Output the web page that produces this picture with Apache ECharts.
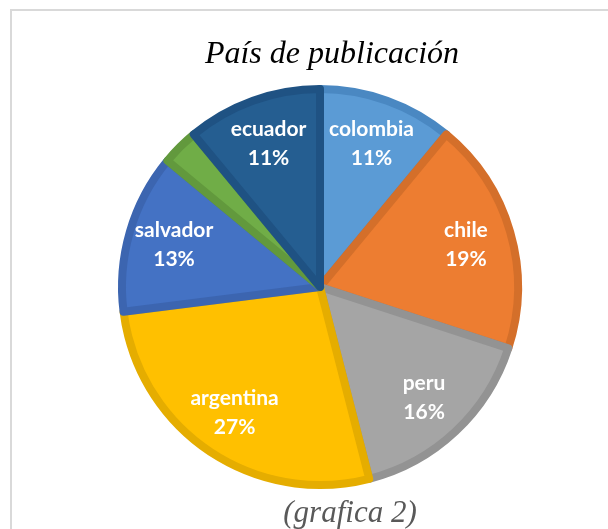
<!DOCTYPE html>
<html>
<head>
<meta charset="utf-8">
<script src="https://cdn.jsdelivr.net/npm/echarts@6/dist/echarts.min.js"></script>
<style>
  html, body { margin: 0; padding: 0; background: #fff; overflow: hidden; }
  #frame { position: absolute; left: 10px; top: 9px; width: 640px; height: 560px; border: 2px solid #d9d9d9; }
  #chart { position: absolute; left: 0; top: 0; width: 608px; height: 529px; }
</style>
</head>
<body>
<div id="frame"></div>
<div id="chart"></div>
<script>
  // datos de la grafica
  const paises = ['colombia', 'chile', 'peru', 'argentina', 'salvador', 'otros', 'ecuador'];
  const porcentajes = [11, 19, 16, 27, 13, 3, 11];
  const colores = ['#5B9BD5', '#ED7D31', '#A5A5A5', '#FFC000', '#4472C4', '#70AD47', '#255E91'];
  const bordes = ['#4A88C2', '#D46F2A', '#939393', '#E5AD00', '#3C65B0', '#62993D', '#1F5283'];

  const myChart = echarts.init(document.getElementById('chart'));

  const datosPie = paises.map((p, i) => ({
    name: p,
    value: porcentajes[i],
    itemStyle: { color: colores[i], borderColor: bordes[i] }
  }));

  // serie transparente solo para las etiquetas (quedan mas afuera del centro)
  const datosEtiquetas = paises.map((p, i) => ({
    name: p,
    value: porcentajes[i],
    label: { show: p !== 'otros' }
  }));

  const option = {
    backgroundColor: 'transparent',
    animation: false,
    title: [
      {
        text: 'País de publicación',
        left: 327, top: 34, textAlign: 'center',
        textStyle: { fontFamily: 'Liberation Serif', fontStyle: 'italic', fontWeight: 'normal', fontSize: 32, color: '#000' }
      },
      {
        text: '(grafica 2)',
        left: 345, top: 493, textAlign: 'center',
        textStyle: { fontFamily: 'Liberation Serif', fontStyle: 'italic', fontWeight: 'normal', fontSize: 31, color: '#595959' }
      }
    ],
    series: [
      {
        type: 'pie',
        center: [320, 287],
        radius: [0, 198],
        startAngle: 90,
        clockwise: true,
        silent: true,
        label: { show: false },
        labelLine: { show: false },
        itemStyle: { borderWidth: 8 },
        data: datosPie
      },
      {
        type: 'pie',
        center: [320, 287],
        radius: [90, 208],
        startAngle: 90,
        clockwise: true,
        silent: true,
        itemStyle: { color: 'rgba(0,0,0,0)', borderWidth: 0 },
        label: {
          position: 'inside',
          formatter: '{b}\n{d}%',
          color: '#fff',
          fontFamily: 'Lato',
          fontWeight: 'bold',
          fontSize: 21,
          lineHeight: 29
        },
        labelLine: { show: false },
        data: datosEtiquetas
      }
    ]
  };

  myChart.setOption(option);
</script>
</body>
</html>
